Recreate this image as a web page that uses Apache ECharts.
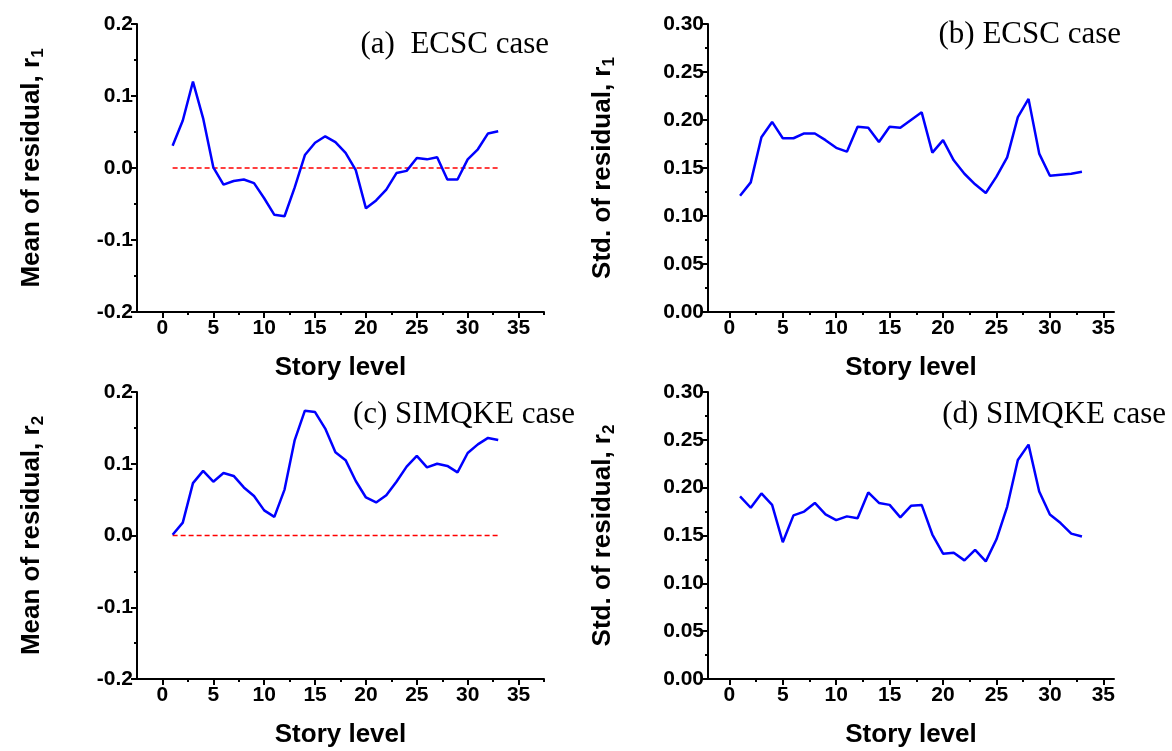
<!DOCTYPE html>
<html>
<head>
<meta charset="utf-8">
<script src="https://cdn.jsdelivr.net/npm/echarts@6/dist/echarts.min.js"></script>
<style>
html,body{margin:0;padding:0;background:#fff;}
#c{width:1172px;height:751px;}
</style>
</head>
<body>
<div id="c"></div>
<script>
// ---- data ----
const storyLevels = [1,2,3,4,5,6,7,8,9,10,11,12,13,14,15,16,17,18,19,20,21,22,23,24,25,26,27,28,29,30,31,32,33];
const meanR1 = [0.031,0.066,0.120,0.069,0.001,-0.023,-0.018,-0.016,-0.021,-0.042,-0.065,-0.067,-0.027,0.018,0.035,0.044,0.036,0.021,-0.003,-0.056,-0.045,-0.030,-0.007,-0.004,0.014,0.012,0.015,-0.016,-0.016,0.012,0.026,0.048,0.051];
const stdR1 = [0.121,0.135,0.182,0.198,0.181,0.181,0.186,0.186,0.179,0.171,0.167,0.193,0.192,0.177,0.193,0.192,0.200,0.208,0.166,0.179,0.158,0.144,0.133,0.124,0.141,0.161,0.203,0.222,0.165,0.142,0.143,0.144,0.146];
const meanR2 = [0.001,0.018,0.073,0.090,0.075,0.087,0.083,0.067,0.055,0.035,0.026,0.064,0.133,0.174,0.172,0.149,0.116,0.105,0.076,0.053,0.046,0.056,0.075,0.096,0.111,0.095,0.100,0.097,0.088,0.115,0.127,0.136,0.133];
const stdR2 = [0.191,0.179,0.194,0.182,0.143,0.171,0.175,0.184,0.172,0.166,0.170,0.168,0.195,0.184,0.182,0.169,0.181,0.182,0.151,0.131,0.132,0.124,0.135,0.123,0.146,0.180,0.229,0.245,0.196,0.172,0.163,0.152,0.149];
const xMajorTicks = [0,5,10,15,20,25,30,35];
const xMinorTicksA = [2.5,7.5,12.5,17.5,22.5,27.5,32.5,37.5];
const xMinorTicksB = [2.5,7.5,12.5,17.5,22.5,27.5,32.5];
const panelTitles = ['(a)  ECSC case','(b) ECSC case','(c) SIMQKE case','(d) SIMQKE case'];
const yNames = ['Mean of residual, r','Std. of residual, r','Mean of residual, r','Std. of residual, r'];
const ySubs = ['1','1','2','2'];
const xName = 'Story level';

// ---- layout ----
const SANS = 'Liberation Sans';
const SERIF = 'Liberation Serif';
const grids = [
  {left:137, top:24, width:407, height:288},
  {left:708, top:24, width:406, height:288},
  {left:137, top:392, width:407, height:287},
  {left:708, top:392, width:406, height:287}
];
const xRanges = [[-2.5,37.5],[-2,36],[-2.5,37.5],[-2,36]];
const minorSets = [xMinorTicksA,xMinorTicksB,xMinorTicksA,xMinorTicksB];
const yCfg = [
  {min:-0.2,max:0.2,interval:0.1,dec:1},
  {min:0,max:0.3,interval:0.05,dec:2},
  {min:-0.2,max:0.2,interval:0.1,dec:1},
  {min:0,max:0.3,interval:0.05,dec:2}
];
const seriesData = [meanR1,stdR1,meanR2,stdR2];
const hasZeroLine = [true,false,true,false];

const xAxes = [], yAxes = [], series = [], graphics = [];
const axisLineStyle = {color:'#000', width:2};
grids.forEach((g,i)=>{
  xAxes.push({
    type:'value', gridIndex:i, min:xRanges[i][0], max:xRanges[i][1],
    name:xName, nameLocation:'middle', nameGap:43,
    nameTextStyle:{fontFamily:SANS, fontWeight:'bold', fontSize:26, color:'#000'},
    axisLine:{show:true, onZero:false, lineStyle:axisLineStyle},
    axisTick:{show:true, inside:false, length:6, lineStyle:{color:'#000', width:2}, customValues:xMajorTicks},
    axisLabel:{show:true, customValues:xMajorTicks, margin:6, fontFamily:SANS, fontWeight:'bold', fontSize:21, color:'#000'},
    splitLine:{show:false}
  });
  yAxes.push({
    type:'value', gridIndex:i, min:yCfg[i].min, max:yCfg[i].max, interval:yCfg[i].interval,
    name:'{n|'+yNames[i]+'}{s|'+ySubs[i]+'}', nameLocation:'middle', nameGap:90,
    nameTextStyle:{
      fontFamily:SANS, fontWeight:'bold', fontSize:26, color:'#000',
      rich:{
        n:{fontFamily:SANS, fontWeight:'bold', fontSize:26, color:'#000', lineHeight:30, verticalAlign:'middle'},
        s:{fontFamily:SANS, fontWeight:'bold', fontSize:17, color:'#000', lineHeight:16, verticalAlign:'bottom'}
      }
    },
    axisLine:{show:true, onZero:false, lineStyle:axisLineStyle},
    axisTick:{show:true, inside:false, length:6, lineStyle:{color:'#000', width:2}},
    minorTick:{show:true, splitNumber:2, length:3, lineStyle:{color:'#000', width:2}},
    axisLabel:{show:true, margin:4, fontFamily:SANS, fontWeight:'bold', fontSize:21, color:'#000',
      formatter:(v)=>v.toFixed(yCfg[i].dec)},
    splitLine:{show:false}, minorSplitLine:{show:false}
  });
});
// overlay axes for minor x ticks
grids.forEach((g,i)=>{
  xAxes.push({
    type:'value', gridIndex:i, min:xRanges[i][0], max:xRanges[i][1], position:'bottom',
    axisLine:{show:false, onZero:false},
    axisTick:{show:true, length:3, lineStyle:{color:'#000', width:2}, customValues:minorSets[i]},
    axisLabel:{show:false}, splitLine:{show:false}
  });
});
grids.forEach((g,i)=>{
  if (hasZeroLine[i]) {
    series.push({
      type:'line', xAxisIndex:i, yAxisIndex:i, symbol:'none', silent:true,
      lineStyle:{color:'#ff0000', width:1.5, type:[5,3]},
      data:[[storyLevels[0],0],[storyLevels[storyLevels.length-1],0]], z:2
    });
  }
  series.push({
    type:'line', xAxisIndex:i, yAxisIndex:i, symbol:'none', silent:true,
    lineStyle:{color:'#0000ff', width:2.5},
    data:storyLevels.map((s,k)=>[s, seriesData[i][k]]), z:3
  });
});
const titlePos = [
  {x:549, y:45},
  {x:1121, y:35},
  {x:575, y:415},
  {x:1166, y:415}
];
panelTitles.forEach((t,i)=>{
  graphics.push({
    type:'text', x:titlePos[i].x, y:titlePos[i].y, silent:true,
    style:{text:t, font:'31px "'+SERIF+'"', fill:'#000', textAlign:'right', textVerticalAlign:'middle'}
  });
});

const chart = echarts.init(document.getElementById('c'), null, {renderer:'canvas'});
chart.setOption({
  backgroundColor:'#fff',
  animation:false,
  grid:grids.map(g=>Object.assign({containLabel:false}, g)),
  xAxis:xAxes, yAxis:yAxes, series:series, graphic:graphics
});
</script>
</body>
</html>
